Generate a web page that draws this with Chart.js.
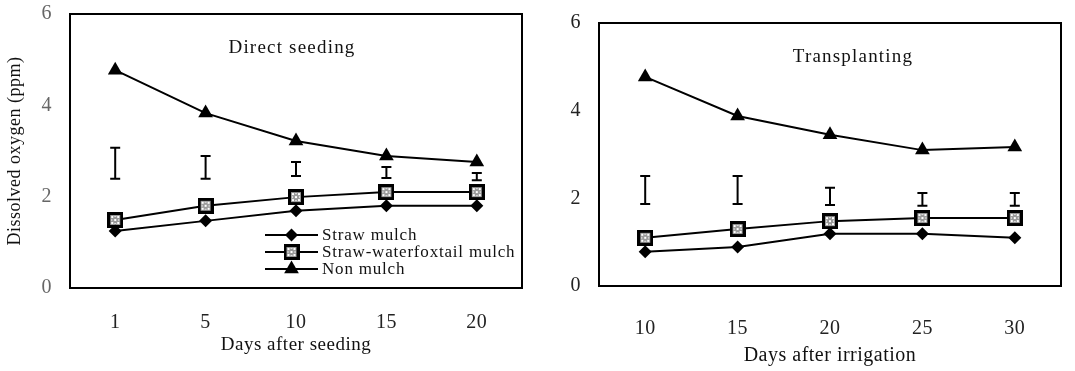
<!DOCTYPE html>
<html>
<head>
<meta charset="utf-8">
<script src="https://cdn.jsdelivr.net/npm/chart.js@4/dist/chart.umd.min.js"></script>
<style>
  html, body { margin: 0; padding: 0; background: #fff; }
  body { width: 1075px; height: 371px; position: relative; overflow: hidden; }
  #c1 { position: absolute; left: 0; top: 0; }
  #c2 { position: absolute; left: 540px; top: 0; }
</style>
</head>
<body>
<canvas id="c1" width="540" height="371"></canvas>
<canvas id="c2" width="535" height="371"></canvas>
<script>
// ---- Data: Direct seeding ----
const seedDays = ['1', '5', '10', '15', '20'];
const seedStraw = [1.25, 1.47, 1.69, 1.80, 1.80];
const seedStrawFox = [1.49, 1.80, 1.99, 2.10, 2.10];
const seedNon = [4.77, 3.83, 3.22, 2.89, 2.76];
const seedLsdLow = [2.39, 2.39, 2.45, 2.41, 2.36];
const seedLsdHigh = [3.07, 2.89, 2.76, 2.65, 2.52];

// ---- Data: Transplanting ----
const transDays = ['10', '15', '20', '25', '30'];
const transStraw = [0.78, 0.89, 1.19, 1.19, 1.10];
const transStrawFox = [1.10, 1.30, 1.48, 1.55, 1.55];
const transNon = [4.77, 3.88, 3.45, 3.10, 3.17];
const transLsdLow = [1.87, 1.87, 1.85, 1.83, 1.83];
const transLsdHigh = [2.51, 2.51, 2.24, 2.12, 2.12];

// ---- Labels ----
const seriesNames = ['Straw mulch', 'Straw-waterfoxtail mulch', 'Non mulch'];
const yTicks = [0, 2, 4, 6];
const yTitle = 'Dissolved oxygen (ppm)';
const seedXTitle = 'Days after seeding';
const transXTitle = 'Days after irrigation';
const seedPanel = 'Direct seeding';
const transPanel = 'Transplanting';

const SERIF = '"Liberation Serif", "Times New Roman", serif';

// hatched square marker
function makeSquare() {
  const c = document.createElement('canvas');
  c.width = 16; c.height = 16;
  const g = c.getContext('2d');
  g.fillStyle = '#000'; g.fillRect(0, 0, 16, 16);
  g.fillStyle = '#9a9a9a'; g.fillRect(3, 3, 10, 10);
  g.fillStyle = '#fff';
  g.fillRect(4, 4, 2, 2); g.fillRect(10, 4, 2, 2);
  g.fillRect(7, 7, 2, 2);
  g.fillRect(4, 10, 2, 2); g.fillRect(10, 10, 2, 2);
  g.fillStyle = '#e0e0e0';
  g.fillRect(7, 4, 2, 1); g.fillRect(7, 11, 2, 1);
  g.fillRect(4, 7, 1, 2); g.fillRect(11, 7, 1, 2);
  return c;
}
const squareImg = makeSquare();

function datasets(straw, fox, non) {
  const common = { borderColor: '#000', borderWidth: 2, fill: false, tension: 0,
                   pointBackgroundColor: '#000', pointBorderColor: '#000', pointBorderWidth: 0 };
  return [
    Object.assign({ label: seriesNames[0], data: straw, pointStyle: 'rectRot', pointRadius: 6.5 }, common),
    Object.assign({ label: seriesNames[1], data: fox, pointStyle: squareImg, pointRadius: 8 }, common),
    Object.assign({ label: seriesNames[2], data: non, pointStyle: 'triangle', pointRadius: 8.5 }, common)
  ];
}

const spacingPlugin = {
  id: 'spacing',
  beforeDraw(chart, args, opts) {
    chart.ctx.letterSpacing = opts.ls || '0px';
  }
};

const framePlugin = {
  id: 'frame',
  afterDatasetsDraw(chart) {
    const { ctx, chartArea: a } = chart;
    ctx.save();
    ctx.strokeStyle = '#000'; ctx.lineWidth = 2;
    ctx.strokeRect(a.left, a.top, a.right - a.left, a.bottom - a.top);
    ctx.restore();
  }
};

const lsdPlugin = {
  id: 'lsd',
  afterDatasetsDraw(chart, args, opts) {
    const { ctx } = chart;
    const xs = chart.scales.x, ys = chart.scales.y;
    ctx.save();
    ctx.strokeStyle = '#000'; ctx.lineWidth = 2;
    for (let i = 0; i < opts.low.length; i++) {
      const x = xs.getPixelForValue(i);
      const y1 = ys.getPixelForValue(opts.low[i]);
      const y2 = ys.getPixelForValue(opts.high[i]);
      ctx.beginPath();
      ctx.moveTo(x, y1); ctx.lineTo(x, y2);
      ctx.moveTo(x - 5, y1); ctx.lineTo(x + 5, y1);
      ctx.moveTo(x - 5, y2); ctx.lineTo(x + 5, y2);
      ctx.stroke();
    }
    ctx.restore();
  }
};

const panelTitlePlugin = {
  id: 'panelTitle',
  afterDraw(chart, args, opts) {
    const { ctx, chartArea: a } = chart;
    ctx.save();
    ctx.fillStyle = '#111';
    ctx.font = '19px ' + SERIF;
    ctx.letterSpacing = '1.2px';
    ctx.textAlign = 'center'; ctx.textBaseline = 'middle';
    ctx.fillText(opts.text, a.left + opts.dx, a.top + opts.dy);
    ctx.restore();
  }
};

const innerLegendPlugin = {
  id: 'innerLegend',
  afterDraw(chart, args, opts) {
    if (!opts.show) return;
    const { ctx, chartArea: a } = chart;
    ctx.save();
    ctx.letterSpacing = '0.8px';
    const x0 = a.left + 195, x1 = a.left + 248, xm = (x0 + x1) / 2;
    chart.data.datasets.forEach((ds, i) => {
      const y = a.bottom - 53 + i * 17;
      ctx.strokeStyle = '#000'; ctx.lineWidth = 2;
      ctx.beginPath(); ctx.moveTo(x0, y); ctx.lineTo(x1, y); ctx.stroke();
      ctx.fillStyle = '#000';
      Chart.helpers.drawPoint(ctx, { pointStyle: ds.pointStyle, radius: ds.pointRadius, borderWidth: 0, rotation: 0 }, xm, y);
      ctx.fillStyle = '#111';
      ctx.font = '17px ' + SERIF;
      ctx.textAlign = 'left'; ctx.textBaseline = 'middle';
      ctx.fillText(ds.label, x1 + 4, y + 1);
    });
    ctx.restore();
  }
};

function makeChart(id, cats, straw, fox, non, low, high, cfg) {
  return new Chart(document.getElementById(id), {
    type: 'line',
    data: { labels: cats, datasets: datasets(straw, fox, non) },
    plugins: [spacingPlugin, lsdPlugin, framePlugin, panelTitlePlugin, innerLegendPlugin],
    options: {
      responsive: false,
      animation: false,
      devicePixelRatio: 1,
      layout: { padding: cfg.padding },
      plugins: {
        legend: { display: false },
        tooltip: { enabled: false },
        spacing: { ls: '0.5px' },
        lsd: { low: low, high: high },
        panelTitle: cfg.panelTitle,
        innerLegend: { show: cfg.legend }
      },
      scales: {
        x: {
          type: 'category',
          offset: true,
          grid: { display: false, drawTicks: false },
          border: { display: false },
          ticks: { color: '#222', font: { family: SERIF, size: 20 }, padding: cfg.xTickPad, maxRotation: 0 },
          title: { display: true, text: cfg.xTitle, color: '#111',
                   font: { family: SERIF, size: cfg.xTitleSize }, padding: { top: 0, bottom: cfg.xTitlePad } },
          afterFit(s) { s.height = cfg.xHeight; s.paddingLeft = 0; s.paddingRight = 0; }
        },
        y: {
          min: 0, max: 6,
          afterBuildTicks(s) { s.ticks = yTicks.map(v => ({ value: v })); },
          grid: { display: false, drawTicks: false },
          border: { display: false },
          ticks: { color: cfg.yTickColor, font: { family: SERIF, size: 20 }, padding: 18 },
          title: { display: cfg.yTitle !== '', text: cfg.yTitle, color: '#111',
                   font: { family: SERIF, size: 18 } },
          afterFit(s) { s.width = cfg.yWidth; s.paddingTop = 0; s.paddingBottom = 0; }
        }
      }
    }
  });
}

makeChart('c1', seedDays, seedStraw, seedStrawFox, seedNon, seedLsdLow, seedLsdHigh, {
  padding: { left: 0, top: 14, right: 18, bottom: 0 },
  xHeight: 83, yWidth: 70, xTickPad: 23, xTitlePad: 15, xTitleSize: 19,
  xTitle: seedXTitle, yTitle: yTitle, yTickColor: '#666',
  panelTitle: { text: seedPanel, dx: 222, dy: 34 },
  legend: true
});

makeChart('c2', transDays, transStraw, transStrawFox, transNon, transLsdLow, transLsdHigh, {
  padding: { left: 0, top: 23, right: 14, bottom: 0 },
  xHeight: 85, yWidth: 59, xTickPad: 31, xTitlePad: 3, xTitleSize: 20,
  xTitle: transXTitle, yTitle: '', yTickColor: '#222',
  panelTitle: { text: transPanel, dx: 254, dy: 34 },
  legend: false
});
</script>
</body>
</html>
